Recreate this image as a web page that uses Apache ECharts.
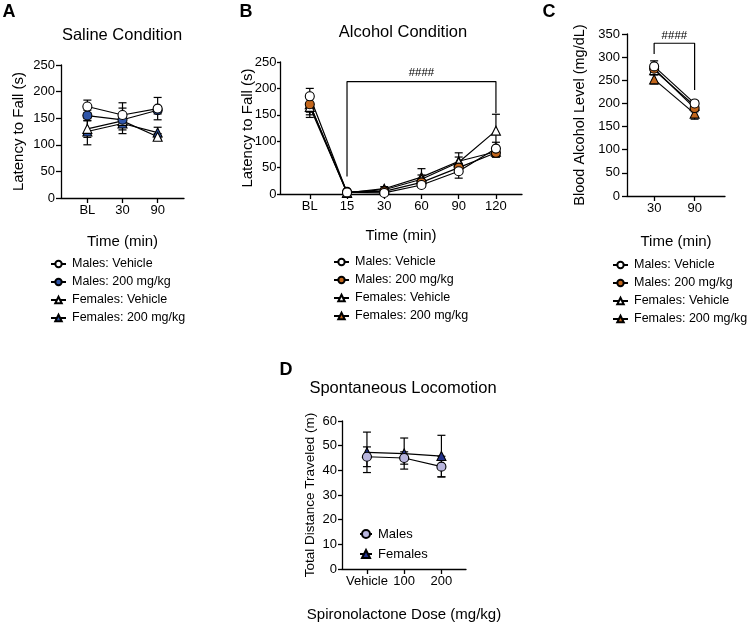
<!DOCTYPE html>
<html><head><meta charset="utf-8">
<script src="https://cdn.jsdelivr.net/npm/echarts@6/dist/echarts.min.js"></script>
<style>html,body{margin:0;padding:0;background:#fff}#c{width:750px;height:626px}</style>
</head><body><div id="c"></div>
<script>
const FONT = "'Liberation Sans', Arial, Helvetica, sans-serif";

// ---- Panel A: Saline Condition ----
const catsA = ['BL', '30', '90'];
const aMaleVeh = [172, 156, 168];   const aMaleVehSem = [12, 23, 21];
const aMale200 = [155, 147, 165];   const aMale200Sem = [10, 10, 7];
const aFemVeh  = [130, 145, 115];   const aFemVehSem  = [16, 24, 6];
const aFem200  = [125, 140, 123];   const aFem200Sem  = [25, 12, 10];

// ---- Panel B: Alcohol Condition ----
const catsB = ['BL', '15', '30', '60', '90', '120'];
const bMaleVeh = [185, 3, 2, 17, 43, 86];   const bMaleVehSem = [15, 2, 2, 4, 13, 12];
const bMale200 = [170, 4, 5, 22, 50, 78];   const bMale200Sem = [15, 2, 3, 5, 8, 8];
const bFemVeh  = [165, 3, 8, 28, 60, 120];  const bFemVehSem  = [20, 2, 3, 8, 10, 31];
const bFem200  = [170, 2, 10, 32, 62, 80];  const bFem200Sem  = [20, 2, 4, 16, 16, 10];
const bracketB = [[1, 33], [1, 213], [5, 213], [5, 153]];
const sigB = [[3, 230]];

// ---- Panel C: Blood Alcohol Level ----
const catsC = ['30', '90'];
const cMaleVeh = [280, 200];  const cMaleVehSem = [12, 6];
const cMale200 = [275, 190];  const cMale200Sem = [10, 8];
const cFemVeh  = [272, 195];  const cFemVehSem  = [10, 10];
const cFem200  = [252, 178];  const cFem200Sem  = [10, 12];
const bracketC = [[0, 307], [0, 330], [1, 330], [1, 229]];
const sigC = [[0.5, 347]];

// ---- Panel D: Spontaneous Locomotion ----
const catsD = ['Vehicle', '100', '200'];
const dMales   = [45.5, 45.0, 41.5];  const dMalesSem   = [4.0, 2.5, 4.2];
const dFemales = [47.3, 46.8, 45.8];  const dFemalesSem = [8.2, 6.3, 8.4];

const legendNames = ['Males: Vehicle', 'Males: 200 mg/kg', 'Females: Vehicle', 'Females: 200 mg/kg'];

const BLUE = '#2f55a8', ORANGE = '#c2661c', LAV = '#b8b5dd', NAVY = '#22318a';

function errRender(params, api) {
  const x = api.value(0), lo = api.value(1), hi = api.value(2);
  const p1 = api.coord([x, lo]), p2 = api.coord([x, hi]);
  const w = 4;
  const st = { stroke: '#000', lineWidth: 1.2 };
  return { type: 'group', children: [
    { type: 'line', shape: { x1: p1[0], y1: p1[1], x2: p2[0], y2: p2[1] }, style: st },
    { type: 'line', shape: { x1: p1[0] - w, y1: p1[1], x2: p1[0] + w, y2: p1[1] }, style: st },
    { type: 'line', shape: { x1: p2[0] - w, y1: p2[1], x2: p2[0] + w, y2: p2[1] }, style: st }
  ]};
}
function sigRender(params, api) {
  const p = api.coord([api.value(0), api.value(1)]);
  return { type: 'text', x: p[0], y: p[1],
    style: { text: '####', font: '11.5px ' + FONT, fill: '#000', align: 'center', verticalAlign: 'middle' } };
}

const series = [];
function addGroup(panel, idx, name, means, sems, symbol, color, size) {
  series.push({
    type: 'custom', xAxisIndex: idx, yAxisIndex: idx, silent: true, z: 2,
    renderItem: errRender,
    data: means.map((v, i) => [i, v - sems[i], v + sems[i]])
  });
  series.push({
    type: 'line', name: panel + '|' + name, xAxisIndex: idx, yAxisIndex: idx, z: 3,
    data: means.map((v, i) => [i, v]),
    symbol: symbol, symbolSize: size,
    itemStyle: { color: color, borderColor: '#000', borderWidth: 1.1, opacity: 1 },
    lineStyle: { color: '#000', width: 1.2 },
    emphasis: { disabled: true }
  });
}
// draw order: last on top
addGroup('A', 0, legendNames[3], aFem200, aFem200Sem, 'triangle', BLUE, 9);
addGroup('A', 0, legendNames[2], aFemVeh, aFemVehSem, 'triangle', '#fff', 9);
addGroup('A', 0, legendNames[1], aMale200, aMale200Sem, 'circle', BLUE, 9);
addGroup('A', 0, legendNames[0], aMaleVeh, aMaleVehSem, 'circle', '#fff', 9);

addGroup('B', 1, legendNames[3], bFem200, bFem200Sem, 'triangle', ORANGE, 9);
addGroup('B', 1, legendNames[2], bFemVeh, bFemVehSem, 'triangle', '#fff', 9);
addGroup('B', 1, legendNames[1], bMale200, bMale200Sem, 'circle', ORANGE, 9);
addGroup('B', 1, legendNames[0], bMaleVeh, bMaleVehSem, 'circle', '#fff', 9);

addGroup('C', 2, legendNames[3], cFem200, cFem200Sem, 'triangle', ORANGE, 9);
addGroup('C', 2, legendNames[2], cFemVeh, cFemVehSem, 'triangle', '#fff', 9);
addGroup('C', 2, legendNames[1], cMale200, cMale200Sem, 'circle', ORANGE, 9);
addGroup('C', 2, legendNames[0], cMaleVeh, cMaleVehSem, 'circle', '#fff', 9);

addGroup('D', 3, 'Females', dFemales, dFemalesSem, 'triangle', NAVY, 9);
addGroup('D', 3, 'Males', dMales, dMalesSem, 'circle', LAV, 9);

function addBracket(idx, pts, sig) {
  series.push({ type: 'line', xAxisIndex: idx, yAxisIndex: idx, data: pts, symbol: 'none', silent: true,
    lineStyle: { color: '#000', width: 1.2 }, z: 1 });
  series.push({ type: 'custom', xAxisIndex: idx, yAxisIndex: idx, data: sig, silent: true, z: 4,
    renderItem: sigRender });
}
addBracket(1, bracketB, sigB);
addBracket(2, bracketC, sigC);

const axLine = { show: true, onZero: false, lineStyle: { color: '#000', width: 1.3 } };
const txt = (s) => ({ fontSize: s, color: '#000', fontFamily: FONT });

function xAx(idx, min, max, labels, name, gap) {
  const vals = labels.map((_, i) => i);
  return {
    type: 'value', gridIndex: idx, min: min, max: max,
    axisLine: axLine,
    axisTick: { show: true, length: 5, customValues: vals, lineStyle: { color: '#000', width: 1.3 } },
    axisLabel: { customValues: vals, formatter: (v) => labels[Math.round(v)], margin: 6, ...txt(13) },
    splitLine: { show: false },
    name: name, nameLocation: 'middle', nameGap: gap, nameTextStyle: txt(15), nameMoveOverlap: false
  };
}
function yAx(idx, max, interval, name, gap, nsize, margin, tlen) {
  return {
    type: 'value', gridIndex: idx, min: 0, max: max, interval: interval,
    axisLine: axLine,
    axisTick: { show: true, length: tlen, lineStyle: { color: '#000', width: 1.3 } },
    axisLabel: { margin: margin, ...txt(13) },
    splitLine: { show: false },
    name: name, nameLocation: 'middle', nameGap: gap, nameRotate: 90, nameTextStyle: txt(nsize),
    nameMoveOverlap: false
  };
}

function legendFor(panel, names, left, top, fs, iw, ih, gap) {
  return {
    orient: 'vertical', left: left, top: top, padding: 0, itemGap: gap,
    itemWidth: iw, itemHeight: ih, selectedMode: false,
    data: names.map(n => panel + '|' + n),
    formatter: (n) => n.split('|')[1],
    textStyle: { ...txt(fs), lineHeight: 14, padding: [0, 0, 0, 1] }
  };
}

const gtext = (x, y, text, font) => ({
  type: 'text', x: x, y: y, silent: true,
  style: { text: text, font: font, fill: '#000', align: 'center', verticalAlign: 'middle', textAlign: 'center', textVerticalAlign: 'middle' }
});

const option = {
  animation: false,
  backgroundColor: '#fff',
  grid: [
    { left: 61, top: 65, width: 123, height: 133, outerBoundsMode: 'none' },
    { left: 280, top: 62, width: 242, height: 132, outerBoundsMode: 'none' },
    { left: 627, top: 34, width: 98, height: 162, outerBoundsMode: 'none' },
    { left: 342, top: 421, width: 124, height: 148, outerBoundsMode: 'none' }
  ],
  xAxis: [
    xAx(0, -0.75, 2.75, catsA, 'Time (min)', 36),
    xAx(1, -0.8, 5.7, catsB, 'Time (min)', 34),
    xAx(2, -0.67, 1.75, catsC, 'Time (min)', 38),
    xAx(3, -0.67, 2.66, catsD, 'Spironolactone Dose (mg/kg)', 38)
  ],
  yAxis: [
    yAx(0, 250, 50, 'Latency to Fall (s)', 35, 15, 6, 5),
    yAx(1, 250, 50, 'Latency to Fall (s)', 25, 15, 3.5, 3),
    yAx(2, 350, 50, 'Blood Alcohol Level (mg/dL)', 40, 14.5, 7, 5),
    yAx(3, 60, 10, 'Total Distance Traveled (m)', 25, 13.5, 5, 4)
  ],
  legend: [
    legendFor('A', legendNames, 50, 257, 12.5, 15, 8, 4),
    legendFor('B', legendNames, 333, 255, 12.5, 15, 8, 4),
    legendFor('C', legendNames, 612, 258, 12.5, 15, 8, 4),
    legendFor('D', ['Males', 'Females'], 359, 527, 13, 12, 10, 6)
  ],
  graphic: [
    gtext(9, 12, 'A', "bold 18px " + FONT),
    gtext(246, 12, 'B', "bold 18px " + FONT),
    gtext(549, 12, 'C', "bold 18px " + FONT),
    gtext(286, 370, 'D', "bold 18px " + FONT),
    gtext(122, 35, 'Saline Condition', "16.5px " + FONT),
    gtext(403, 32, 'Alcohol Condition', "16.5px " + FONT),
    gtext(403, 388, 'Spontaneous Locomotion', "16.5px " + FONT)
  ],
  series: series
};

const chart = echarts.init(document.getElementById('c'), null, { renderer: 'canvas' });
chart.setOption(option);
</script>
</body></html>
